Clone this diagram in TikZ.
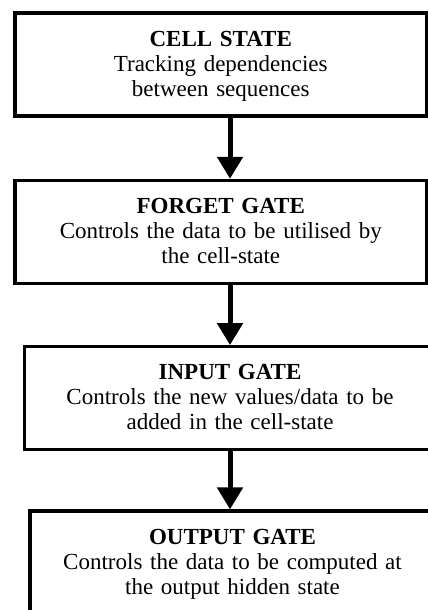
\documentclass[tikz,border=0pt]{standalone}
\usepackage{fontspec}
\setmainfont{Liberation Serif}
\usetikzlibrary{positioning,arrows.meta}

\tikzset{
  gatebox/.style={draw=black,line width=3.3pt,fill=white,anchor=north,
    inner xsep=0pt,inner ysep=0pt,align=center,
    font=\fontsize{23}{25}\selectfont,
    text height=33pt,text depth=70pt},
  flowarrow/.style={line width=5pt,-{Triangle[width=25pt,length=22pt]}}
}

\begin{document}
\begin{tikzpicture}[x=1pt,y=1pt]
\useasboundingbox (0,0) rectangle (428,610);
\clip (0,0) rectangle (428,610);
% the four boxes
\node[gatebox,text width=411.5pt] (cell) at (220.75,598.5)
  {\textbf{CELL STATE}\\Tracking dependencies\\between sequences};
\node[gatebox,text width=411.5pt,below=61pt of cell.south] (forget)
  {\textbf{FORGET GATE}\\Controls the data to be utilised by\\the cell-state};
\node[gatebox,text width=411pt,below=60pt of forget.south,xshift=9.25pt] (input)
  {\textbf{INPUT GATE}\\Controls the new values/data to be\\added in the cell-state};
\node[gatebox,text width=405pt,text depth=130pt,below=58pt of input.south,xshift=2.5pt] (output)
  {\textbf{OUTPUT GATE}\\Controls the data to be computed at\\the output hidden state};
% arrows
\draw[flowarrow] (cell.south -| input.north) -- (forget.north -| input.north);
\draw[flowarrow] (forget.south -| input.north) -- (input.north);
\draw[flowarrow] (input.south) -- (output.north -| input.north);
\end{tikzpicture}
\end{document}
